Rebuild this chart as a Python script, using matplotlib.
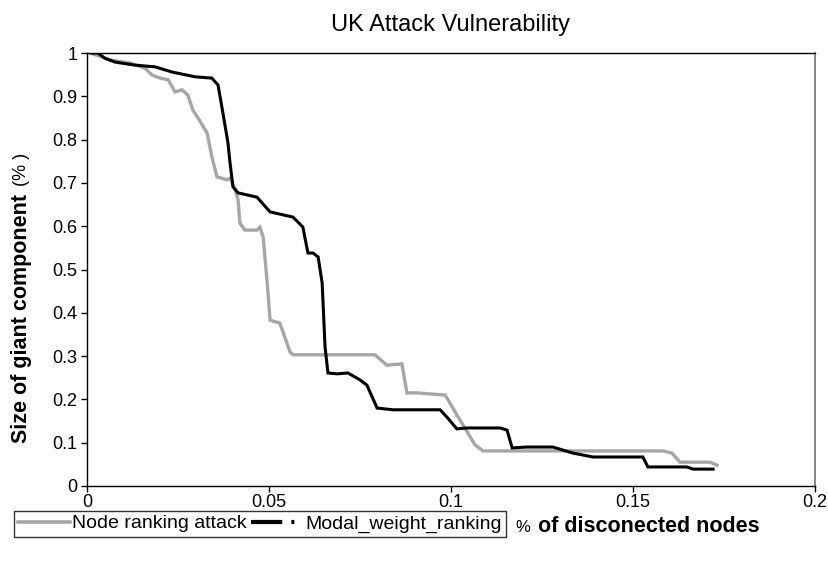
import matplotlib
matplotlib.use("Agg")
import matplotlib.pyplot as plt
from matplotlib.lines import Line2D

plt.rcParams["font.family"] = ["Liberation Sans", "DejaVu Sans"]

# fraction of disconnected nodes vs. relative size of the giant component
node_rank_x = [0.0008, 0.0027, 0.0063, 0.0118, 0.0159, 0.0179, 0.0201, 0.0223,
               0.0242, 0.0261, 0.0277, 0.0291, 0.0305, 0.0330, 0.0343, 0.0357,
               0.0385, 0.0393, 0.0407, 0.0415, 0.0420, 0.0434, 0.0467, 0.0475,
               0.0484, 0.0495, 0.0503, 0.0530, 0.0558, 0.0566, 0.0791, 0.0824,
               0.0865, 0.0879, 0.0907, 0.0984, 0.1025, 0.1066, 0.1088, 0.1582,
               0.1607, 0.1629, 0.1712, 0.1731]
node_rank_y = [1.000, 0.995, 0.984, 0.977, 0.965, 0.949, 0.942, 0.938,
               0.910, 0.915, 0.903, 0.868, 0.850, 0.815, 0.760, 0.714,
               0.707, 0.711, 0.684, 0.661, 0.607, 0.591, 0.591, 0.598,
               0.575, 0.469, 0.383, 0.376, 0.309, 0.303, 0.303, 0.279,
               0.282, 0.215, 0.215, 0.210, 0.152, 0.095, 0.081, 0.081,
               0.076, 0.055, 0.055, 0.048]

modal_x = [0.0014, 0.0030, 0.0049, 0.0077, 0.0132, 0.0187, 0.0234, 0.0297,
           0.0343, 0.0360, 0.0371, 0.0387, 0.0393, 0.0401, 0.0415, 0.0467,
           0.0503, 0.0566, 0.0593, 0.0607, 0.0621, 0.0635, 0.0646, 0.0654,
           0.0662, 0.0687, 0.0717, 0.0750, 0.0769, 0.0797, 0.0841, 0.0970,
           0.0989, 0.1016, 0.1044, 0.1135, 0.1154, 0.1168, 0.1209, 0.1280,
           0.1335, 0.1390, 0.1527, 0.1541, 0.1648, 0.1665, 0.1720]
modal_y = [1.000, 1.000, 0.988, 0.979, 0.972, 0.968, 0.956, 0.945,
           0.942, 0.926, 0.873, 0.794, 0.746, 0.691, 0.677, 0.667,
           0.633, 0.621, 0.598, 0.538, 0.538, 0.529, 0.469, 0.321,
           0.261, 0.259, 0.261, 0.245, 0.233, 0.180, 0.176, 0.176,
           0.159, 0.132, 0.134, 0.134, 0.129, 0.088, 0.090, 0.090,
           0.076, 0.067, 0.067, 0.044, 0.044, 0.039, 0.039]

x_ticks = [0, 0.05, 0.1, 0.15, 0.2]
x_tick_labels = ["0", "0.05", "0.1", "0.15", "0.2"]
y_ticks = [0, 0.1, 0.2, 0.3, 0.4, 0.5, 0.6, 0.7, 0.8, 0.9, 1.0]
y_tick_labels = ["0", "0.1", "0.2", "0.3", "0.4", "0.5", "0.6", "0.7", "0.8", "0.9", "1"]

W, H = 829, 569
fig = plt.figure(figsize=(W / 100, H / 100), dpi=100)
ax = fig.add_axes([87 / W, 1 - 486 / H, (815 - 87) / W, (486 - 53) / H])

ax.plot(node_rank_x, node_rank_y, color="#a6a6a6", lw=2.4, solid_joinstyle="miter")
ax.plot(modal_x, modal_y, color="black", lw=2.2, solid_joinstyle="miter")

ax.set_xlim(0, 0.2)
ax.set_ylim(0, 1)
ax.set_xticks(x_ticks)
ax.set_xticklabels(x_tick_labels)
ax.set_yticks(y_ticks)
ax.set_yticklabels(y_tick_labels)
ax.tick_params(direction="out", length=4, width=1, labelsize=13, colors="black")
ax.tick_params(axis="x", pad=1.5)
ax.tick_params(axis="y", pad=3)
for side in ["left", "bottom", "top"]:
    ax.spines[side].set_color("black")
    ax.spines[side].set_linewidth(1)
ax.spines["right"].set_color("#707070")
ax.spines["right"].set_linewidth(1.2)

fig.text(451 / W, 1 - 25 / H, "UK Attack Vulnerability", ha="center", va="center", fontsize=17)

# y label: bold text followed by plain unit
fig.text(22 / W, 1 - 443 / H, "Size of giant component", rotation=90, ha="center",
         va="bottom", fontsize=15.5, fontweight="bold")
fig.text(22 / W, 1 - 186 / H, "(% )", rotation=90, ha="center", va="bottom", fontsize=13)

# x label sits to the right of the legend
fig.text(515 / W, 1 - 527 / H, "%", ha="left", va="center", fontsize=12)
fig.text(538 / W, 1 - 527 / H, "of disconected nodes", ha="left", va="center",
         fontsize=15.5, fontweight="bold")

handles = [
    Line2D([], [], color="#a6a6a6", lw=2.6),
    Line2D([], [], color="black", lw=3, dashes=[7.5, 2.2, 0.7, 5]),
]
leg = fig.legend(handles, ["Node ranking attack", "Modal_weight_ranking"],
                 loc="upper left", bbox_to_anchor=(14 / W, 1 - 511 / H), ncol=2,
                 fontsize=14, frameon=True, fancybox=False, handlelength=2.7,
                 handletextpad=0.1, columnspacing=0.2, borderpad=0.2,
                 borderaxespad=0)
leg.get_frame().set_edgecolor("black")
leg.get_frame().set_linewidth(1)

fig.savefig("out.png", dpi=100)
